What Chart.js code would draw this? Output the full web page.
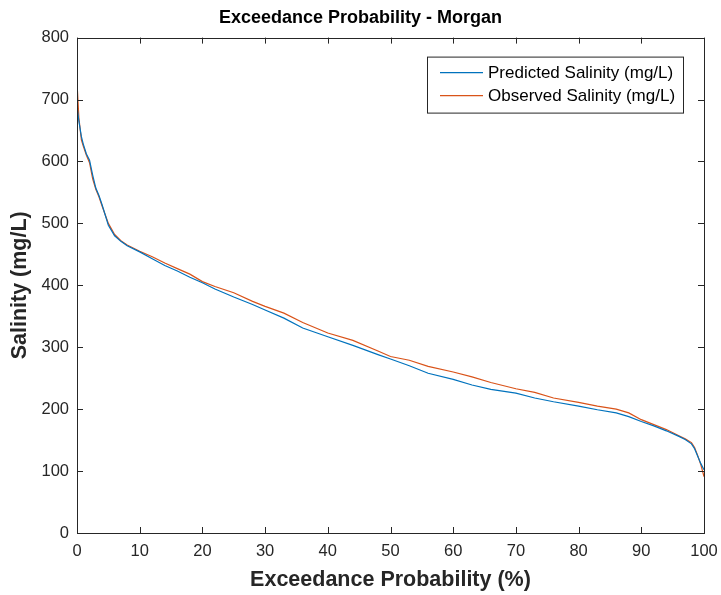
<!DOCTYPE html>
<html>
<head>
<meta charset="utf-8">
<script src="https://cdn.jsdelivr.net/npm/chart.js@4.4.0/dist/chart.umd.min.js"></script>
<style>
  html, body { margin: 0; padding: 0; background: #fff; }
  #wrap { width: 721px; height: 595px; }
</style>
</head>
<body>
<div id="wrap"><canvas id="chart" width="721" height="595"></canvas></div>
<script>
// exceedance probability (%) at which values were read
const exceedance = [0, 0.3, 0.7, 1, 1.5, 2, 2.5, 3, 3.5, 4, 5, 6, 7, 8, 10, 12, 14, 16, 18, 20,
    22, 25, 28, 30, 33, 36, 40, 44, 48, 50, 53, 56, 60, 63, 66, 70, 73, 76, 80, 83,
    86, 88, 90, 92, 94, 96, 97, 98, 98.5, 99, 99.5, 100];

const predicted = [690, 665, 640, 628, 612, 602, 578, 557, 545, 530, 497, 480, 471, 464, 454, 443, 432, 423, 413, 404,
    394, 381, 369, 360, 347, 331, 317, 303, 288, 281, 270, 258, 248, 239, 232, 226, 218, 212, 205, 199,
    194, 188, 180, 173, 165, 156, 151, 144, 136, 124, 112, 102];

const observed = [728, 670, 635, 625, 610, 598, 572, 555, 543, 528, 500, 482, 472, 465, 455, 446, 436, 427, 418, 406,
    398, 388, 374, 366, 355, 340, 323, 311, 294, 285, 279, 269, 260, 252, 243, 233, 227, 218, 211, 205,
    200, 194, 183, 175, 167, 157, 152, 146, 138, 125, 110, 91];

const xTicks = [0, 10, 20, 30, 40, 50, 60, 70, 80, 90, 100];
const yTicks = [0, 100, 200, 300, 400, 500, 600, 700, 800];

const FONT = '"Liberation Sans", Arial, sans-serif';

const toPoints = (vals) => exceedance.map((x, i) => ({ x: x, y: vals[i] }));

// box around the axes plus inward tick marks, MATLAB style
const framePlugin = {
    id: 'frame',
    afterDatasetsDraw(chart) {
        const ctx = chart.ctx;
        const a = chart.chartArea;
        const xs = chart.scales.x, ys = chart.scales.y;
        ctx.save();
        ctx.strokeStyle = '#262626';
        ctx.lineWidth = 1;
        ctx.beginPath();
        xTicks.forEach(v => {
            const px = Math.round(xs.getPixelForValue(v)) + 0.5;
            ctx.moveTo(px, a.bottom); ctx.lineTo(px, a.bottom - 6);
            ctx.moveTo(px, a.top); ctx.lineTo(px, a.top + 6);
        });
        yTicks.forEach(v => {
            const py = Math.round(ys.getPixelForValue(v)) + 0.5;
            ctx.moveTo(a.left, py); ctx.lineTo(a.left + 6, py);
            ctx.moveTo(a.right, py); ctx.lineTo(a.right - 6, py);
        });
        ctx.stroke();
        ctx.strokeRect(Math.round(a.left) + 0.5, Math.round(a.top) + 0.5,
            Math.round(a.right - a.left), Math.round(a.bottom - a.top));
        ctx.restore();
    }
};

// legend box in the top right of the axes
const legendBoxPlugin = {
    id: 'legendBox',
    afterDraw(chart) {
        const ctx = chart.ctx;
        const a = chart.chartArea;
        const w = 256, h = 56;
        const x0 = a.right - 21 - w, y0 = a.top + 19;
        ctx.save();
        ctx.fillStyle = '#fff';
        ctx.fillRect(x0, y0, w, h);
        ctx.strokeStyle = '#262626';
        ctx.lineWidth = 1;
        ctx.strokeRect(x0 + 0.5, y0 + 0.5, w, h);
        ctx.font = '17px ' + FONT;
        ctx.textBaseline = 'middle';
        chart.data.datasets.forEach((ds, i) => {
            const yy = y0 + 16 + i * 23;
            ctx.strokeStyle = ds.borderColor;
            ctx.lineWidth = 1.2;
            ctx.beginPath();
            ctx.moveTo(x0 + 13, yy); ctx.lineTo(x0 + 56, yy);
            ctx.stroke();
            ctx.fillStyle = '#000';
            ctx.fillText(ds.label, x0 + 61, yy + 1);
        });
        ctx.restore();
    }
};

new Chart(document.getElementById('chart'), {
    type: 'line',
    data: {
        datasets: [{
            label: 'Predicted Salinity (mg/L)',
            data: toPoints(predicted),
            borderColor: '#0072BD',
            borderWidth: 1.2,
            pointRadius: 0,
            tension: 0
        }, {
            label: 'Observed Salinity (mg/L)',
            data: toPoints(observed),
            borderColor: '#D95319',
            borderWidth: 1.2,
            pointRadius: 0,
            tension: 0
        }]
    },
    options: {
        responsive: false,
        animation: false,
        layout: { padding: { left: 0, right: 0, top: 1, bottom: 0 } },
        plugins: {
            legend: { display: false },
            tooltip: { enabled: false },
            title: {
                display: true,
                text: 'Exceedance Probability - Morgan',
                color: '#000',
                font: { family: FONT, size: 18, weight: 'bold', lineHeight: 1.2 },
                padding: { top: 6, bottom: 9 }
            }
        },
        scales: {
            x: {
                type: 'linear',
                min: 0,
                max: 100,
                afterFit: (s) => { s.height = 62; s.paddingLeft = 0; s.paddingRight = 17; },
                afterBuildTicks: (s) => { s.ticks = xTicks.map(v => ({ value: v })); },
                grid: { display: false, drawTicks: false },
                border: { display: false },
                ticks: {
                    color: '#262626',
                    padding: 9,
                    maxRotation: 0,
                    font: { family: FONT, size: 16.5 }
                },
                title: {
                    display: true,
                    text: 'Exceedance Probability (%)',
                    color: '#262626',
                    font: { family: FONT, size: 21.5, weight: 'bold', lineHeight: 1.2 },
                    padding: { top: 0, bottom: 2 }
                }
            },
            y: {
                min: 0,
                max: 800,
                afterFit: (s) => { s.width = 77; },
                afterBuildTicks: (s) => { s.ticks = yTicks.map(v => ({ value: v })); },
                grid: { display: false, drawTicks: false },
                border: { display: false },
                ticks: {
                    color: '#262626',
                    padding: 8,
                    font: { family: FONT, size: 16.5 }
                },
                title: {
                    display: true,
                    text: 'Salinity (mg/L)',
                    color: '#262626',
                    font: { family: FONT, size: 21.5, weight: 'bold', lineHeight: 1.2 },
                    padding: { top: 7, bottom: 0 }
                }
            }
        }
    },
    plugins: [framePlugin, legendBoxPlugin]
});
</script>
</body>
</html>
